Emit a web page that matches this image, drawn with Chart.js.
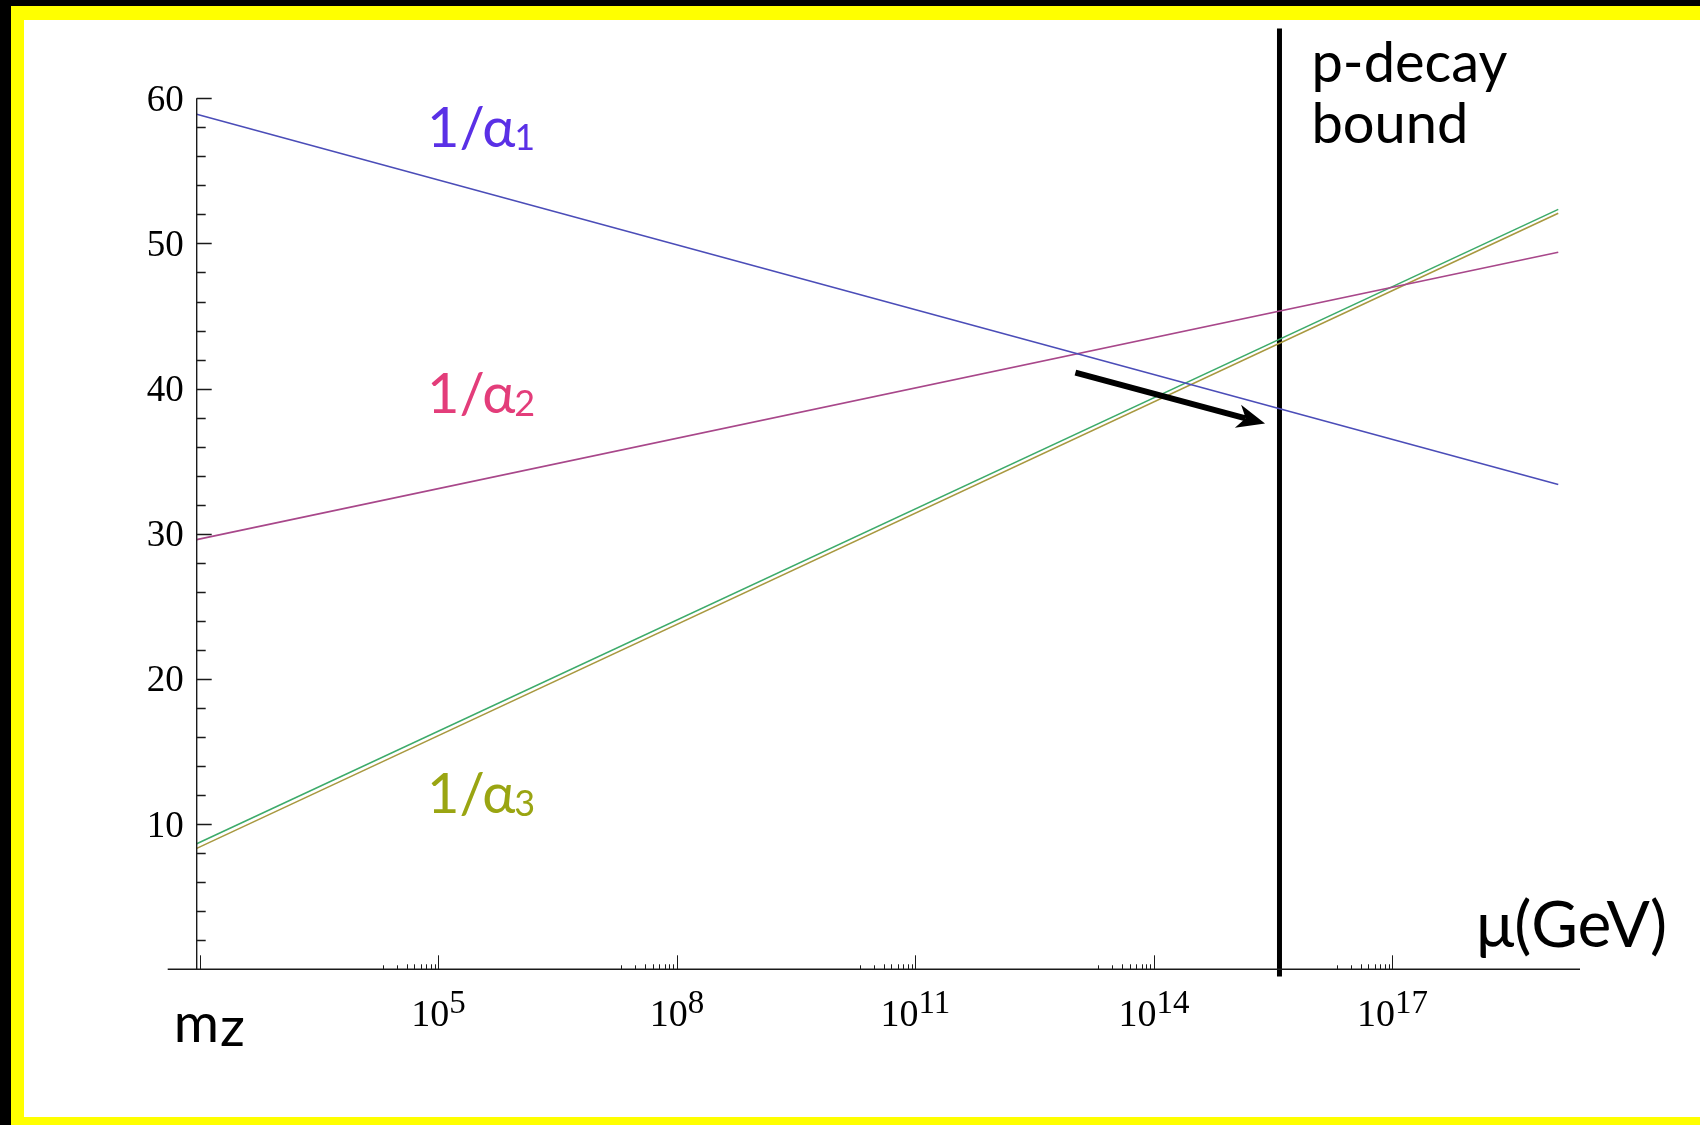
<!DOCTYPE html>
<html>
<head>
<meta charset="utf-8">
<script src="https://cdn.jsdelivr.net/npm/chart.js@4.4.0/dist/chart.umd.min.js"></script>
<style>
  html,body{margin:0;padding:0;background:#000;width:1700px;height:1125px;overflow:hidden;}
  #frame{position:absolute;left:11px;top:6px;width:1689px;height:1119px;background:#ffff00;}
  #box{position:absolute;left:24px;top:20px;width:1676px;height:1097px;background:#fff;}
  canvas{display:block;}
</style>
</head>
<body>
<div id="frame"></div>
<div id="box"><canvas id="c" width="1676" height="1097"></canvas></div>
<script>
// energy scale (GeV): from m_Z up to the Planck mass
const mu = [91.19, 1.22e19];
// inverse couplings at the two ends of the running
const invAlpha1  = [58.9, 33.4];
const invAlpha2  = [29.6, 49.4];
const invAlpha3a = [8.65, 52.35];
const invAlpha3b = [8.33, 52.08];
// proton decay bound (GeV) and the vertical extent of its marker
const pDecayBound = 3.8e15;
const boundSpan = [-0.5, 64.8];
// arrow: from (GeV, 1/alpha) to (GeV, 1/alpha)
const arrowFrom = [1.03e13, 41.1];
const arrowTo   = [2.5e15, 37.6];
// axes
const xRange = [91.19, 2.29e19];
const yRange = [0, 60];
const yLabels = [10, 20, 30, 40, 50, 60];
const xMajorExp = [2, 5, 8, 11, 14, 17];
const xLabelExp = [5, 8, 11, 14, 17];

const pts = vals => mu.map((m, i) => ({x: m, y: vals[i]}));

const SANS = 'Lato, "Open Sans", sans-serif';
const SERIF = '"Liberation Serif", "Times New Roman", serif';

function txt(ctx, s, x, y, font, color, align) {
  ctx.font = font; ctx.fillStyle = color; ctx.textAlign = align || 'left';
  ctx.textBaseline = 'alphabetic';
  ctx.fillText(s, x, y);
  return ctx.measureText(s).width;
}

// "1/α" with a subscript
function alphaLabel(ctx, sub, x, base, color) {
  const w = txt(ctx, '1/α', x, base, '56px ' + SANS, color);
  txt(ctx, sub, x + w - 1, base + 3, '36px ' + SANS, color);
}

const axesPlugin = {
  id: 'axes',
  afterDraw(chart) {
    const {ctx, chartArea: a, scales: {x, y}} = chart;
    const y0 = y.getPixelForValue(0);
    ctx.save();
    ctx.strokeStyle = '#1a1a1a';
    ctx.lineWidth = 1.4;
    ctx.beginPath();
    ctx.moveTo(a.left - 29, y0); ctx.lineTo(a.right, y0);
    ctx.moveTo(a.left, y0); ctx.lineTo(a.left, y.getPixelForValue(yRange[1]));
    // y ticks
    for (let v = 2; v <= 60; v += 2) {
      const py = Math.round(y.getPixelForValue(v)) + 0.5;
      const len = v % 10 === 0 ? 15 : 9;
      ctx.moveTo(a.left, py); ctx.lineTo(a.left + len, py);
    }
    ctx.stroke();
    // x ticks
    ctx.lineWidth = 1;
    ctx.beginPath();
    xMajorExp.forEach(e => {
      const px = Math.round(x.getPixelForValue(Math.pow(10, e))) + 0.5;
      ctx.moveTo(px, y0); ctx.lineTo(px, y0 - 14);
      if (e > 2) {
        for (let k = 2; k <= 9; k++) {
          const qx = Math.round(x.getPixelForValue(k * Math.pow(10, e - 1))) + 0.5;
          ctx.moveTo(qx, y0); ctx.lineTo(qx, y0 - (k < 4 ? 4 : 5));
        }
      }
    });
    ctx.stroke();

    // y labels
    yLabels.forEach(v => {
      txt(ctx, String(v), a.left - 13, y.getPixelForValue(v) + 12.5, '37px ' + SERIF, '#000', 'right');
    });
    // x labels 10^n
    xLabelExp.forEach(e => {
      const px = x.getPixelForValue(Math.pow(10, e));
      ctx.font = '38px ' + SERIF;
      const w1 = ctx.measureText('10').width;
      ctx.font = '33px ' + SERIF;
      const w2 = ctx.measureText(String(e)).width;
      const sx = px - (w1 + w2) / 2;
      txt(ctx, '10', sx, y0 + 57, '38px ' + SERIF, '#000');
      txt(ctx, String(e), sx + w1, y0 + 44, '33px ' + SERIF, '#000');
    });

    // m_Z
    const wm = txt(ctx, 'm', a.left - 23, y0 + 73, '55px ' + SANS, '#000');
    txt(ctx, 'z', a.left - 23 + wm + 1, y0 + 77, '55px ' + SANS, '#000');
    // axis title
    txt(ctx, 'μ(GeV)', a.right + 87, y0 - 22, '64px ' + SANS, '#000', 'right');

    // bound label
    const bx = x.getPixelForValue(pDecayBound) + 32;
    txt(ctx, 'p-decay', bx, 62, '56px ' + SANS, '#000');
    txt(ctx, 'bound', bx, 123, '56px ' + SANS, '#000');

    // coupling labels
    alphaLabel(ctx, '1', 403, 127, '#5a30e6');
    alphaLabel(ctx, '2', 403, 393, '#e33d7a');
    alphaLabel(ctx, '3', 403, 793, '#9aa512');

    // arrow
    const x1 = x.getPixelForValue(arrowFrom[0]), y1 = y.getPixelForValue(arrowFrom[1]);
    const x2 = x.getPixelForValue(arrowTo[0]),   y2 = y.getPixelForValue(arrowTo[1]);
    const ang = Math.atan2(y2 - y1, x2 - x1);
    const hl = 28, hw = 12, notch = 8;
    const bxp = x2 - hl * Math.cos(ang), byp = y2 - hl * Math.sin(ang);
    ctx.strokeStyle = '#000'; ctx.fillStyle = '#000';
    ctx.lineWidth = 6; ctx.lineCap = 'butt';
    ctx.beginPath();
    ctx.moveTo(x1, y1);
    ctx.lineTo(x2 - (hl - notch) * Math.cos(ang), y2 - (hl - notch) * Math.sin(ang));
    ctx.stroke();
    ctx.beginPath();
    ctx.moveTo(x2, y2);
    ctx.lineTo(bxp - hw * Math.sin(ang), byp + hw * Math.cos(ang));
    ctx.lineTo(x2 - (hl - notch) * Math.cos(ang), y2 - (hl - notch) * Math.sin(ang));
    ctx.lineTo(bxp + hw * Math.sin(ang), byp - hw * Math.cos(ang));
    ctx.closePath();
    ctx.fill();
    ctx.restore();
  }
};

const line = (vals, color) => ({
  data: pts(vals), borderColor: color, borderWidth: 1.6,
  pointRadius: 0, tension: 0, fill: false
});

new Chart(document.getElementById('c'), {
  type: 'line',
  data: {
    datasets: [
      line(invAlpha1, '#4b4db8'),
      line(invAlpha2, '#a8478a'),
      line(invAlpha3a, '#3dab6a'),
      line(invAlpha3b, '#a8983f'),
      {
        data: boundSpan.map(v => ({x: pDecayBound, y: v})),
        borderColor: '#000', borderWidth: 5, pointRadius: 0, clip: false
      }
    ]
  },
  options: {
    responsive: false,
    animation: false,
    layout: {padding: {left: 172.7, right: 120, top: 78.3, bottom: 147.7}},
    scales: {
      x: {type: 'logarithmic', min: xRange[0], max: xRange[1], display: false},
      y: {type: 'linear', min: yRange[0], max: yRange[1], display: false}
    },
    plugins: {legend: {display: false}, tooltip: {enabled: false}}
  },
  plugins: [axesPlugin]
});
</script>
</body>
</html>
